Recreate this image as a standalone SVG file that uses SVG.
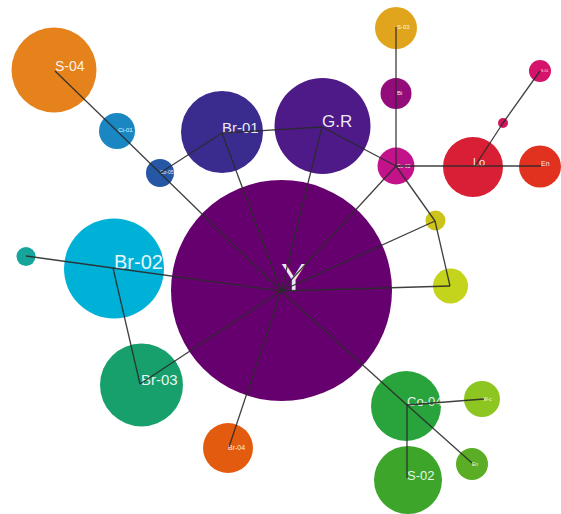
<svg xmlns="http://www.w3.org/2000/svg" width="561" height="514" viewBox="0 0 561 514">
<style>
text{font-family:"Liberation Sans",Arial,sans-serif;fill:#ffffff;fill-opacity:0.92}
.e line{stroke:#2a2a2a;stroke-width:1.3;stroke-opacity:0.9}
</style>
<rect width="561" height="514" fill="#ffffff"/>
<g id="node-Y"><circle cx="281.5" cy="290.5" r="110.5" fill="#66006e"/><text x="281" y="291" font-size="38">Y</text></g>
<g id="node-S-04"><circle cx="54" cy="70" r="42.5" fill="#e5821b"/><text x="55" y="71" font-size="14">S-04</text></g>
<g id="node-Ct-01"><circle cx="117" cy="131" r="18" fill="#1b87c2"/><text x="118" y="132" font-size="6">Ct-01</text></g>
<g id="node-Co-05"><circle cx="160" cy="173" r="14" fill="#2557a5"/><text x="160" y="174" font-size="5">Co-05</text></g>
<g id="node-Br-01"><circle cx="222" cy="132" r="41" fill="#3a2c8e"/><text x="222" y="133" font-size="15">Br-01</text></g>
<g id="node-G.R"><circle cx="322.5" cy="126" r="48" fill="#4d1a87"/><text x="322" y="127" font-size="17">G.R</text></g>
<g id="node-S-03"><circle cx="396" cy="28" r="21" fill="#e1a51d"/><text x="397" y="29" font-size="6">S-03</text></g>
<g id="node-Bi"><circle cx="396" cy="93.5" r="15.5" fill="#940c7c"/><text x="397" y="95" font-size="6">Bi</text></g>
<g id="node-Co-02"><circle cx="396" cy="166" r="18.5" fill="#c3138a"/><text x="397" y="168" font-size="5">Co-02</text></g>
<g id="node-Lo"><circle cx="473" cy="167" r="30" fill="#d91f35"/><text x="473" y="166" font-size="11">Lo</text></g>
<g id="node-En"><circle cx="540" cy="166.5" r="21" fill="#e1311f"/><text x="541" y="166" font-size="7">En</text></g>
<g id="node-Lo-1"><circle cx="503" cy="123" r="5" fill="#d3175c"/></g>
<g id="node-Lo-2"><circle cx="540" cy="71" r="11" fill="#d5136a"/><text x="541" y="72" font-size="3.5">S-01</text></g>
<g id="node-Y-1"><circle cx="435.5" cy="220.5" r="10" fill="#cdc41b"/></g>
<g id="node-Y-2"><circle cx="450.5" cy="286" r="17.5" fill="#c4d41c"/></g>
<g id="node-teal"><circle cx="26" cy="256.5" r="9.5" fill="#16a59b"/></g>
<g id="node-Br-02"><circle cx="114" cy="268.5" r="50" fill="#00b1d7"/><text x="114" y="269" font-size="20">Br-02</text></g>
<g id="node-Br-03"><circle cx="141.5" cy="385" r="41.5" fill="#17a06b"/><text x="141" y="385" font-size="15">Br-03</text></g>
<g id="node-Br-04"><circle cx="228" cy="448" r="25" fill="#e35b0e"/><text x="228" y="450" font-size="7">Br-04</text></g>
<g id="node-Co-04"><circle cx="406" cy="406" r="35" fill="#29a33b"/><text x="407" y="406" font-size="13">Co-04</text></g>
<g id="node-S-02"><circle cx="408" cy="480" r="34" fill="#3ca52a"/><text x="407" y="480" font-size="13">S-02</text></g>
<g id="node-W-c"><circle cx="482" cy="399" r="18" fill="#8dc521"/><text x="483" y="401" font-size="5">W-c</text></g>
<g id="node-En-2"><circle cx="472" cy="464" r="16" fill="#5bad26"/><text x="472" y="466" font-size="5">En</text></g>
<g id="connectors" class="e">
<line x1="281" y1="291" x2="160" y2="173"/>
<line x1="281" y1="291" x2="222" y2="133"/>
<line x1="281" y1="291" x2="322" y2="127"/>
<line x1="281" y1="291" x2="396" y2="166"/>
<line x1="281" y1="291" x2="435" y2="221"/>
<line x1="281" y1="291" x2="450" y2="286"/>
<line x1="281" y1="291" x2="407" y2="405"/>
<line x1="281" y1="291" x2="229" y2="447"/>
<line x1="281" y1="291" x2="140" y2="384"/>
<line x1="281" y1="291" x2="113" y2="268"/>
<line x1="55" y1="71" x2="117" y2="131"/>
<line x1="117" y1="131" x2="160" y2="173"/>
<line x1="160" y1="173" x2="222" y2="133"/>
<line x1="222" y1="133" x2="322" y2="127"/>
<line x1="322" y1="127" x2="396" y2="166"/>
<line x1="396" y1="27" x2="396" y2="94"/>
<line x1="396" y1="94" x2="396" y2="166"/>
<line x1="396" y1="166" x2="475" y2="166"/>
<line x1="475" y1="166" x2="541" y2="166"/>
<line x1="475" y1="166" x2="503" y2="123"/>
<line x1="503" y1="123" x2="540" y2="71"/>
<line x1="396" y1="166" x2="435" y2="221"/>
<line x1="435" y1="221" x2="450" y2="286"/>
<line x1="407" y1="405" x2="407" y2="478"/>
<line x1="407" y1="405" x2="484" y2="399"/>
<line x1="407" y1="405" x2="472" y2="463"/>
<line x1="26" y1="256" x2="113" y2="268"/>
<line x1="113" y1="268" x2="140" y2="384"/>
</g>
</svg>
